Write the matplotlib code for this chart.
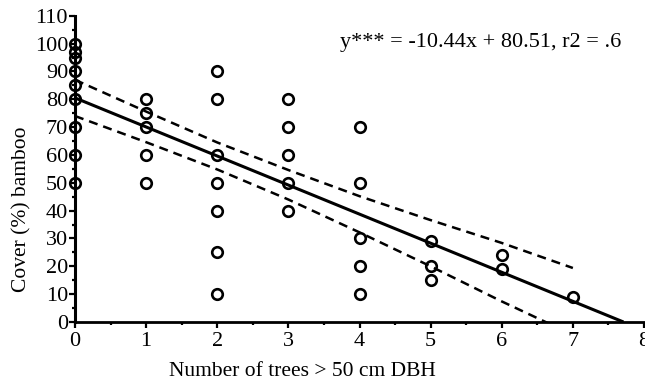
import numpy as np
import matplotlib
matplotlib.use("Agg")
import matplotlib.pyplot as plt
from matplotlib.ticker import MultipleLocator

# ---- data ----
x_trees = [0, 0, 0, 0, 0, 0, 0, 0, 0,
           1, 1, 1, 1, 1,
           2, 2, 2, 2, 2, 2, 2,
           3, 3, 3, 3, 3,
           4, 4, 4, 4, 4,
           5, 5, 5,
           6, 6,
           7]
cover = [100, 97, 95, 90, 85, 80, 70, 60, 50,
         80, 75, 70, 60, 50,
         90, 80, 60, 50, 40, 25, 10,
         80, 70, 60, 50, 40,
         70, 50, 30, 20, 10,
         29, 20, 15,
         24, 19,
         9]

slope = -10.44
intercept = 80.51

band_x = [0, 1, 2, 3, 4, 5, 6, 7]
band_upper = [87.0, 75.6, 64.5, 54.6, 45.2, 36.6, 28.4, 19.4]
band_lower = [74.0, 64.6, 54.8, 44.0, 32.2, 20.0, 7.4, -4.6]

x_ticks = [0, 1, 2, 3, 4, 5, 6, 7, 8]
y_ticks = [0, 10, 20, 30, 40, 50, 60, 70, 80, 90, 100, 110]

equation = "y*** = -10.44x + 80.51, r2 = .6"
xlabel = "Number of trees > 50 cm DBH"
ylabel = "Cover (%) bamboo"

# ---- figure ----
plt.rcParams['font.family'] = ['Liberation Serif', 'DejaVu Serif']
fig = plt.figure(figsize=(6.45, 3.88), dpi=100)
ax = fig.add_axes([75 / 645, 66 / 388, 569 / 645, 306.2 / 388])

ax.set_xlim(0, 8)
ax.set_ylim(0, 110)

# regression line up to its x-intercept
x_end = -intercept / slope
xl = np.array([0.0, x_end])
ax.plot(xl, intercept + slope * xl, color='black', lw=2.2, solid_capstyle='butt')

# confidence bands
ax.plot(band_x, band_upper, color='black', lw=1.8, dashes=(3.6, 2.4))
ax.plot(band_x, band_lower, color='black', lw=1.8, dashes=(3.6, 2.4))

# data points
ax.plot(x_trees, cover, linestyle='none', marker='o', markersize=7.6,
        markerfacecolor='none', markeredgecolor='black', markeredgewidth=1.9,
        clip_on=False, zorder=5)

# spines
for s in ['top', 'right']:
    ax.spines[s].set_visible(False)
ax.spines['left'].set_linewidth(2.2)
ax.spines['bottom'].set_linewidth(2.0)

ax.set_xticks(x_ticks)
ax.set_yticks(y_ticks)
ax.xaxis.set_minor_locator(MultipleLocator(0.5))
ax.yaxis.set_minor_locator(MultipleLocator(5))
ax.tick_params(axis='both', which='major', direction='out', length=4, width=1.6,
               labelsize=16, pad=1)
ax.tick_params(axis='both', which='minor', direction='out', length=2.5, width=1.6)
ax.tick_params(axis='x', which='major', pad=3)

fig.text(22 / 645, 1 - 209 / 388, ylabel, rotation=90, ha='center', va='center',
         fontsize=15.5)
fig.text(302 / 645, 1 - 371 / 388, xlabel, ha='center', va='center', fontsize=15.5)
fig.text(481 / 645, 1 - 42 / 388, equation, ha='center', va='center', fontsize=16)

fig.savefig("out.png", dpi=100)
